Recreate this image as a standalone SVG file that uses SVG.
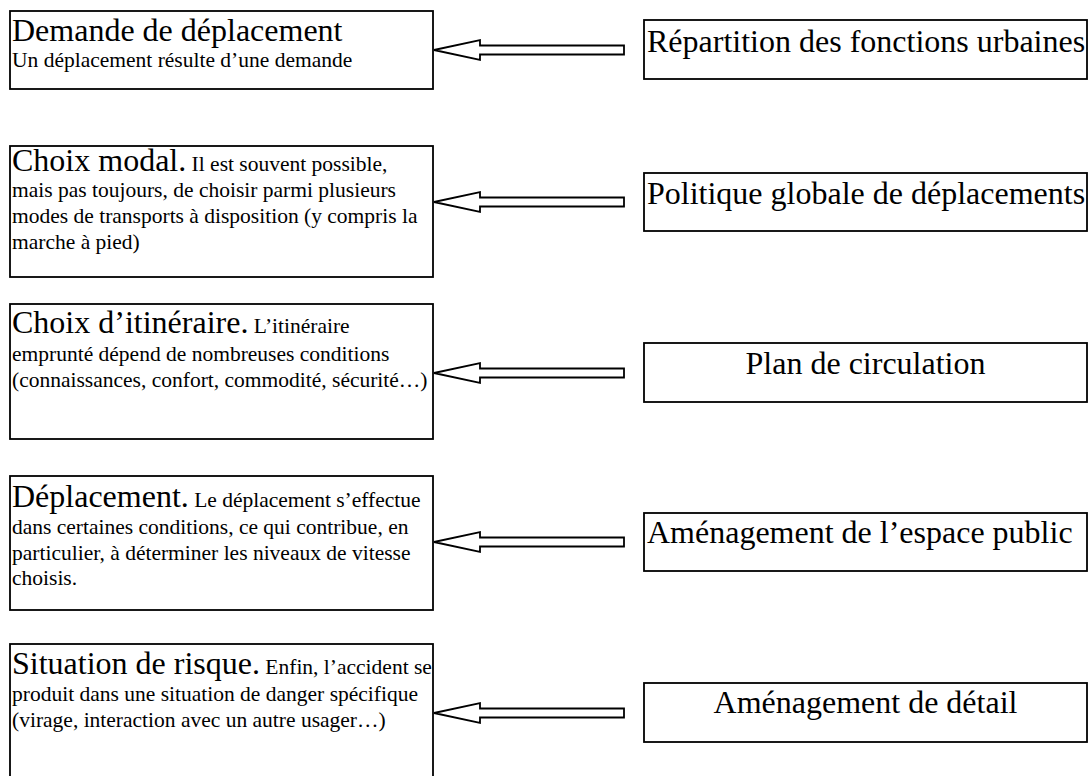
<svg xmlns="http://www.w3.org/2000/svg" xmlns:xlink="http://www.w3.org/1999/xlink" width="1091" height="776" viewBox="0 0 1091 776">
  <style>
    .box { fill: #ffffff; stroke: #000000; stroke-width: 1.8; }
    .arrow { fill: #ffffff; stroke: #000000; stroke-width: 1.8; stroke-linejoin: miter; }
    text, tspan { font-family: "Liberation Serif", "Times New Roman", serif; fill: #000000; }
    .big { font-size: 32px; }
    .body { font-size: 21.5px; }
  </style>
  <defs>
    <polygon id="arrowShape" class="arrow" points="434,0 480,-10 480,-4.5 624,-4.5 624,4.5 480,4.5 480,10"/>
  </defs>
  <rect width="1091" height="776" fill="#ffffff"/>

  <g id="connectors">
    <use xlink:href="#arrowShape" href="#arrowShape" y="50"/>
    <use xlink:href="#arrowShape" href="#arrowShape" y="202"/>
    <use xlink:href="#arrowShape" href="#arrowShape" y="373"/>
    <use xlink:href="#arrowShape" href="#arrowShape" y="542"/>
    <use xlink:href="#arrowShape" href="#arrowShape" y="713"/>
  </g>

  <g id="demande" font-family="Liberation Serif, Times New Roman, serif">
    <rect class="box" x="10" y="11" width="423" height="78"/>
    <text x="12" y="41" class="big">Demande de déplacement</text>
    <text x="12" y="67" class="body">Un déplacement résulte d’une demande</text>
  </g>

  <g id="choix-modal" font-family="Liberation Serif, Times New Roman, serif">
    <rect class="box" x="10" y="146" width="423" height="131"/>
    <text x="12" y="171"><tspan class="big">Choix modal.</tspan><tspan class="body"> Il est souvent possible,</tspan></text>
    <text x="12" y="197" class="body">mais pas toujours, de choisir parmi plusieurs</text>
    <text x="12" y="223" class="body">modes de transports à disposition (y compris la</text>
    <text x="12" y="249" class="body">marche à pied)</text>
  </g>

  <g id="choix-itineraire" font-family="Liberation Serif, Times New Roman, serif">
    <rect class="box" x="10" y="304" width="423" height="135"/>
    <text x="12" y="333"><tspan class="big">Choix d’itinéraire.</tspan><tspan class="body"> L’itinéraire</tspan></text>
    <text x="12" y="361" class="body">emprunté dépend de nombreuses conditions</text>
    <text x="12" y="387" class="body">(connaissances, confort, commodité, sécurité…)</text>
  </g>

  <g id="deplacement" font-family="Liberation Serif, Times New Roman, serif">
    <rect class="box" x="10" y="476" width="423" height="134"/>
    <text x="12" y="507"><tspan class="big">Déplacement.</tspan><tspan class="body"> Le déplacement s’effectue</tspan></text>
    <text x="12" y="534" class="body">dans certaines conditions, ce qui contribue, en</text>
    <text x="12" y="560" class="body">particulier, à déterminer les niveaux de vitesse</text>
    <text x="12" y="585" class="body">choisis.</text>
  </g>

  <g id="situation-risque" font-family="Liberation Serif, Times New Roman, serif">
    <rect class="box" x="10" y="644" width="423" height="140"/>
    <text x="12" y="674"><tspan class="big">Situation de risque.</tspan><tspan class="body"> Enfin, l’accident se</tspan></text>
    <text x="12" y="701" class="body">produit dans une situation de danger spécifique</text>
    <text x="12" y="727" class="body">(virage, interaction avec un autre usager…)</text>
  </g>

  <g id="repartition" font-family="Liberation Serif, Times New Roman, serif">
    <rect class="box" x="644" y="20" width="443" height="59"/>
    <text x="647" y="52" class="big">Répartition des fonctions urbaines</text>
  </g>

  <g id="politique" font-family="Liberation Serif, Times New Roman, serif">
    <rect class="box" x="644" y="173" width="443" height="58"/>
    <text x="647" y="204" class="big">Politique globale de déplacements</text>
  </g>

  <g id="plan-circulation" font-family="Liberation Serif, Times New Roman, serif">
    <rect class="box" x="644" y="343" width="443" height="59"/>
    <text x="865.5" y="374" class="big" text-anchor="middle">Plan de circulation</text>
  </g>

  <g id="espace-public" font-family="Liberation Serif, Times New Roman, serif">
    <rect class="box" x="644" y="513" width="443" height="58"/>
    <text x="647" y="543" class="big">Aménagement de l’espace public</text>
  </g>

  <g id="amenagement-detail" font-family="Liberation Serif, Times New Roman, serif">
    <rect class="box" x="644" y="683" width="443" height="59"/>
    <text x="865.5" y="713" class="big" text-anchor="middle">Aménagement de détail</text>
  </g>
</svg>
